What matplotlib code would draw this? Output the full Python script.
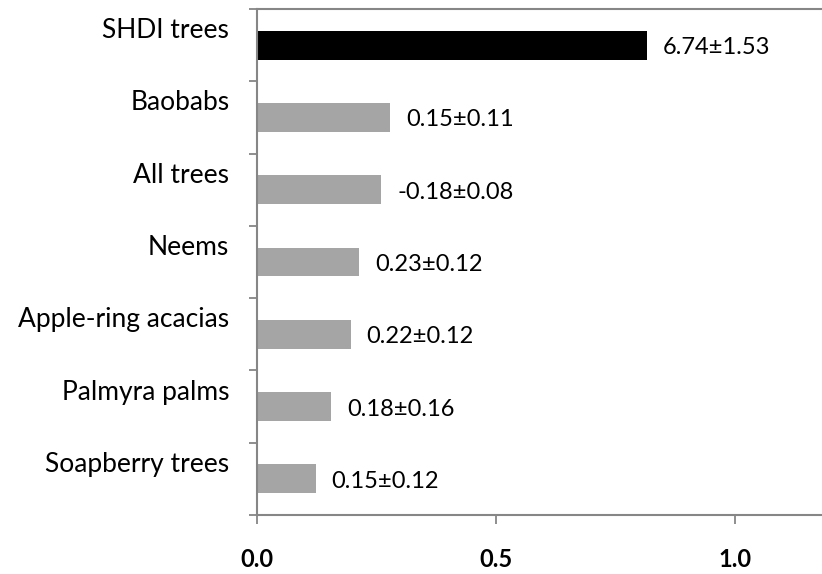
import matplotlib
matplotlib.use("Agg")
import matplotlib.pyplot as plt
import matplotlib.transforms as mtransforms
import numpy as np

# data (top to bottom)
categories = ["SHDI trees", "Baobabs", "All trees", "Neems",
              "Apple-ring acacias", "Palmyra palms", "Soapberry trees"]
values = [0.815, 0.278, 0.259, 0.213, 0.195, 0.155, 0.122]
value_labels = ["6.74±1.53", "0.15±0.11", "-0.18±0.08", "0.23±0.12",
                "0.22±0.12", "0.18±0.16", "0.15±0.12"]
bar_colors = ["#000000"] + ["#A5A5A5"] * 6
xticks = [0.0, 0.5, 1.0]

plt.rcParams['font.family'] = ['Lato', 'DejaVu Sans']
axis_grey = "#868686"

fig = plt.figure(figsize=(8.22, 5.74), dpi=100)
ax = fig.add_axes([257.3 / 822, 1 - 515 / 574, 1 - 257.3 / 822, (515 - 9) / 574])

n = len(categories)
ypos = np.arange(n)[::-1]  # first category on top
ax.barh(ypos, values, height=0.40, color=bar_colors, edgecolor="none")

ax.set_xlim(0, (822 - 257.3) / 478)
ax.set_ylim(-0.5, n - 0.5)

# value labels to the right of each bar
dpi = fig.dpi
for y, v, lab in zip(ypos, values, value_labels):
    off = mtransforms.ScaledTranslation(16 / dpi, -9 / dpi, fig.dpi_scale_trans)
    ax.text(v, y, lab, transform=ax.transData + off, ha="left", va="baseline",
            fontsize=17, color="black")

# category labels sit above the bar centres
for y, cat in zip(ypos, categories):
    off = mtransforms.ScaledTranslation(-28 / dpi, 7 / dpi, fig.dpi_scale_trans)
    ax.text(0, y, cat, transform=ax.get_yaxis_transform() + off, ha="right",
            va="baseline", fontsize=19, color="black")

# tick marks between categories, no tick labels on y
ax.set_yticks(np.arange(-0.5, n, 1.0))
ax.set_yticklabels([])
ax.tick_params(axis="y", direction="out", length=6, width=1.3, color=axis_grey)

ax.set_xticks(xticks)
ax.set_xticklabels([f"{t:.1f}" for t in xticks], fontsize=17, fontweight="bold")
ax.tick_params(axis="x", direction="out", length=6.5, width=1.3, color=axis_grey, pad=17)

for side in ["left", "bottom", "top"]:
    ax.spines[side].set_color(axis_grey)
    ax.spines[side].set_linewidth(1.5)
ax.spines["right"].set_visible(False)

fig.savefig("out.png", dpi=100)
